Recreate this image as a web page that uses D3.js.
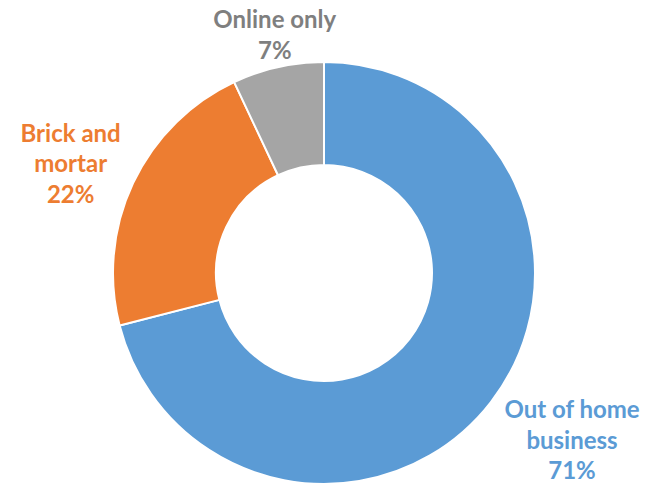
<!DOCTYPE html>
<html><head><meta charset="utf-8">
<script src="https://cdn.jsdelivr.net/npm/d3@7"></script>
<style>body{margin:0;background:#fff}svg{display:block}</style>
</head><body>
<script>
const categories = ["Out of home business", "Brick and mortar", "Online only"];
const labelLines = [["Out of home", "business"], ["Brick and", "mortar"], ["Online only"]];
const values = [71, 22, 7];
const sliceColors = ["#5B9BD5", "#ED7D31", "#A5A5A5"];
const textColors = ["#5B9BD5", "#ED7D31", "#7F7F7F"];

const W = 654, H = 487;
const cx = 324, cy = 273, rOuter = 211, rInner = 108;
const svg = d3.select("body").append("svg").attr("width", W).attr("height", H);
const g = svg.append("g").attr("transform", `translate(${cx},${cy})`);

const data = categories.map((c, i) => ({ c, v: values[i], i }));
const pie = d3.pie().value(d => d.v).sort(null);
const arc = d3.arc().innerRadius(rInner).outerRadius(rOuter);
const arcs = pie(data);

g.selectAll("path").data(arcs).join("path")
  .attr("d", arc)
  .attr("fill", d => sliceColors[d.data.i])
  .attr("stroke", "#fff").attr("stroke-width", 2).attr("stroke-linejoin", "round");

// label layout (positions derived from slice mid-angle)
const labelRadius = [300, 280, 244];
const nudge = [[11, -17], [0, 10], [4, 0]];
const lh = 30.5, fs = 24;
arcs.forEach((a, k) => {
  const i = a.data.i;
  const mid = (a.startAngle + a.endAngle) / 2;
  const [px, py] = d3.pointRadial(mid, labelRadius[i]);
  const x = px + nudge[i][0], y = py + nudge[i][1];
  const lines = labelLines[i].concat([d3.format(".0%")(a.data.v / d3.sum(values))]);
  const n = lines.length;
  const t = g.append("text")
    .attr("text-anchor", "middle")
    .attr("font-family", "Lato, 'Open Sans', sans-serif")
    .attr("font-weight", 700)
    .attr("font-size", fs)
    .attr("fill", textColors[i]);
  lines.forEach((ln, j) => {
    t.append("tspan").attr("x", x)
      .attr("y", y + (j - (n - 1) / 2) * lh + fs * 0.36)
      .text(ln);
  });
});
</script>
</body></html>
